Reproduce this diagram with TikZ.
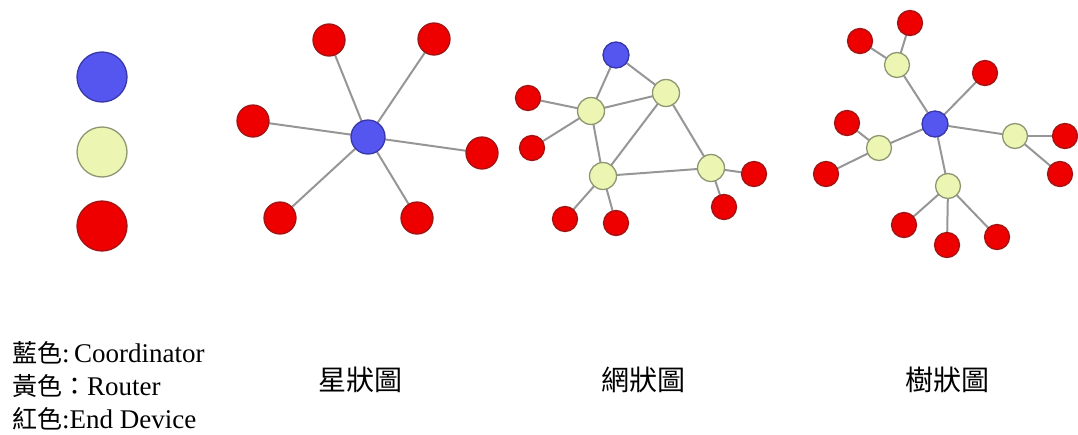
\documentclass[tikz,border=0pt]{standalone}
\usepackage{fontspec}
\setmainfont{Liberation Serif}
\newfontfamily\cjk{Noto Sans CJK TC}
\newcommand\legcfont{\fontsize{25}{30}\selectfont\cjk}
\usetikzlibrary{backgrounds}
\definecolor{cblue}{RGB}{85,85,240}
\definecolor{cblueb}{RGB}{55,55,170}
\definecolor{cyel}{RGB}{236,245,178}
\definecolor{cyelb}{RGB}{140,150,115}
\definecolor{cred}{RGB}{238,0,0}
\definecolor{credb}{RGB}{160,20,20}
\definecolor{cedge}{RGB}{150,150,150}
\tikzset{
  nd/.style={circle,draw,line width=1.3pt,inner sep=0pt,outer sep=0pt},
  coord/.style={nd,fill=cblue,draw=cblueb,minimum size=#1},
  rout/.style={nd,fill=cyel,draw=cyelb,minimum size=#1},
  endd/.style={nd,fill=cred,draw=credb,minimum size=#1},
  lnk/.style={draw=cedge,line width=2pt},
  lbl/.style={anchor=base,font=\fontsize{28}{30}\selectfont\cjk,inner sep=0pt},
  leg/.style={anchor=base west,font=\fontsize{27}{30}\selectfont,inner sep=0pt}
}
\begin{document}
\begin{tikzpicture}[x=1pt,y=-1pt]
\useasboundingbox (0,0) rectangle (1078,434);
% legend circles
\node[coord=50pt] (lb) at (102,77) {};
\node[rout=50pt] (ly) at (102,152) {};
\node[endd=50pt] (lr) at (102,226) {};
% star
\node[coord=34pt] (sc) at (368,137) {};
\node[endd=32pt] (s1) at (329,40) {};
\node[endd=32pt] (s2) at (434,39) {};
\node[endd=32pt] (s3) at (253,121) {};
\node[endd=32pt] (s4) at (482,153) {};
\node[endd=32pt] (s5) at (280,218) {};
\node[endd=32pt] (s6) at (417,218) {};
\begin{scope}[on background layer]
\foreach \n in {s1,s2,s3,s4,s5,s6} \draw[lnk] (sc) -- (\n);
\end{scope}
% mesh
\node[coord=26pt] (mc) at (616,55) {};
\node[rout=27pt] (ma) at (591,111) {};
\node[rout=27pt] (mb) at (666,93) {};
\node[rout=27pt] (mcc) at (603,176) {};
\node[rout=27pt] (md) at (711,168) {};
\node[endd=25pt] (m1) at (528,98) {};
\node[endd=25pt] (m2) at (532,148) {};
\node[endd=25pt] (m3) at (565,219) {};
\node[endd=25pt] (m4) at (616,223) {};
\node[endd=25pt] (m5) at (724,207) {};
\node[endd=25pt] (m6) at (754,174) {};
\begin{scope}[on background layer]
\draw[lnk] (mc) -- (ma);
\draw[lnk] (mc) -- (mb);
\draw[lnk] (ma) -- (mb);
\draw[lnk] (ma) -- (mcc);
\draw[lnk] (mb) -- (mcc);
\draw[lnk] (mb) -- (md);
\draw[lnk] (mcc) -- (md);
\draw[lnk] (m1) -- (ma);
\draw[lnk] (m2) -- (ma);
\draw[lnk] (m3) -- (mcc);
\draw[lnk] (m4) -- (mcc);
\draw[lnk] (m5) -- (md);
\draw[lnk] (m6) -- (md);
\end{scope}
% tree
\node[coord=26pt] (tc) at (935,124) {};
\node[rout=25pt] (y1) at (897,65) {};
\node[rout=25pt] (y2) at (879,148) {};
\node[rout=25pt] (y3) at (1015,136) {};
\node[rout=25pt] (y4) at (948,186) {};
\node[endd=25pt] (t1) at (860,41) {};
\node[endd=25pt] (t2) at (910,23) {};
\node[endd=25pt] (t3) at (985,73) {};
\node[endd=25pt] (t4) at (847,123) {};
\node[endd=25pt] (t5) at (826,174) {};
\node[endd=25pt] (t6) at (1065,136) {};
\node[endd=25pt] (t7) at (1060,174) {};
\node[endd=25pt] (t8) at (904,225) {};
\node[endd=25pt] (t9) at (947,245) {};
\node[endd=25pt] (t10) at (997,237) {};
\begin{scope}[on background layer]
\draw[lnk] (tc) -- (y1);
\draw[lnk] (tc) -- (y2);
\draw[lnk] (tc) -- (y3);
\draw[lnk] (tc) -- (y4);
\draw[lnk] (tc) -- (t3);
\draw[lnk] (y1) -- (t1);
\draw[lnk] (y1) -- (t2);
\draw[lnk] (y2) -- (t4);
\draw[lnk] (y2) -- (t5);
\draw[lnk] (y3) -- (t6);
\draw[lnk] (y3) -- (t7);
\draw[lnk] (y4) -- (t8);
\draw[lnk] (y4) -- (t9);
\draw[lnk] (y4) -- (t10);
\end{scope}
% labels
\node[lbl] (l1) at (360,390) {星狀圖};
\node[lbl] (l2) at (643,390) {網狀圖};
\node[lbl] (l3) at (947,390) {樹狀圖};
% legend text
\node[leg] (g1) at (12,362) {{\legcfont 藍色}:\,Coordinator};
\node[leg] (g2) at (12,395) {{\legcfont 黃色：}Router};
\node[leg] (g3) at (12,428) {{\legcfont 紅色}:End Device};
\end{tikzpicture}
\end{document}
